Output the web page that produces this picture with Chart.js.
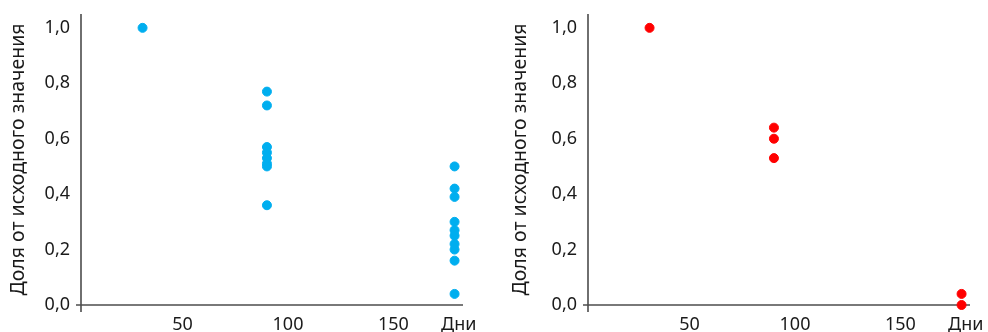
<!DOCTYPE html>
<html>
<head>
<meta charset="utf-8">
<script src="https://cdn.jsdelivr.net/npm/chart.js@4"></script>
<style>
  html, body { margin: 0; padding: 0; background: #fff; }
  .wrap { position: relative; width: 988px; height: 332px; }
  .box { position: absolute; top: 0; height: 332px; }
</style>
</head>
<body>
<div class="wrap">
  <div class="box" style="left:0;width:494px"><canvas id="left"></canvas></div>
  <div class="box" style="left:494px;width:494px"><canvas id="right"></canvas></div>
</div>
<script>
// дни наблюдения (позиции столбцов)
const dayPositions = [31, 90, 179];

// синие точки
const blueDay30 = [1.0];
const blueDay90 = [0.77, 0.72, 0.57, 0.55, 0.53, 0.51, 0.50, 0.36];
const blueDay180 = [0.50, 0.42, 0.39, 0.30, 0.27, 0.25, 0.22, 0.20, 0.16, 0.04];

// красные точки
const redDay30 = [1.0];
const redDay90 = [0.64, 0.60, 0.53];
const redDay180 = [0.04, 0.0];

const xTicks = [50, 100, 150, 181];
const xTickLabels = ['50', '100', '150', 'Дни'];
const yTicks = [0, 0.2, 0.4, 0.6, 0.8, 1.0];
const yTitle = 'Доля от исходного значения';

const FONT = '"Noto Sans", "Open Sans", sans-serif';
const AXIS = '#4d4d4d';

function toPoints(groups) {
  const pts = [];
  groups.forEach((vals, i) => vals.forEach(v => pts.push({ x: dayPositions[i], y: v })));
  return pts;
}

// оси рисуем сами: с небольшим выступом в начале координат
const axesPlugin = {
  id: 'axes',
  beforeDatasetsDraw(chart) {
    const { ctx, chartArea: a } = chart;
    ctx.save();
    ctx.strokeStyle = AXIS;
    ctx.lineWidth = 1.6;
    ctx.beginPath();
    ctx.moveTo(a.left, a.top);
    ctx.lineTo(a.left, a.bottom + 7);
    ctx.moveTo(a.left - 5, a.bottom);
    ctx.lineTo(a.right, a.bottom);
    ctx.stroke();
    ctx.restore();
  }
};

function makeChart(id, groups, color, yWidth, titlePad, rightPad) {
  new Chart(document.getElementById(id), {
    type: 'scatter',
    data: {
      datasets: [{
        data: toPoints(groups),
        backgroundColor: color,
        borderColor: color,
        pointRadius: 4.5,
        pointHoverRadius: 4.5,
        clip: false
      }]
    },
    options: {
      responsive: true,
      maintainAspectRatio: false,
      animation: false,
      layout: { padding: { top: 14, right: rightPad, left: 0, bottom: 0 } },
      plugins: { legend: { display: false }, tooltip: { enabled: false } },
      scales: {
        x: {
          type: 'linear',
          min: 1.8,
          max: 183,
          grid: { display: false, drawTicks: false },
          border: { display: false },
          afterBuildTicks: s => { s.ticks = xTicks.map(v => ({ value: v })); },
          afterFit: s => { s.height = 27; s.paddingLeft = 0; s.paddingRight = 0; },
          ticks: {
            padding: 9,
            color: '#1a1a1a',
            font: { family: FONT, size: 18 },
            callback: v => xTickLabels[xTicks.indexOf(v)]
          }
        },
        y: {
          min: 0,
          max: 1.05,
          grid: { display: false, drawTicks: false },
          border: { display: false },
          afterBuildTicks: s => { s.ticks = yTicks.map(v => ({ value: v })); },
          afterFit: s => { s.width = yWidth; s.paddingTop = 0; s.paddingBottom = 0; },
          ticks: {
            padding: 11,
            color: '#1a1a1a',
            font: { family: FONT, size: 18 },
            callback: v => v.toFixed(1).replace('.', ',')
          },
          title: {
            display: true,
            text: yTitle,
            color: '#1a1a1a',
            font: { family: FONT, size: 19.5 },
            padding: { top: titlePad, bottom: 0 }
          }
        }
      }
    },
    plugins: [axesPlugin]
  });
}

makeChart('left', [blueDay30, blueDay90, blueDay180], '#00aeef', 81, 7, 31);
makeChart('right', [redDay30, redDay90, redDay180], '#ff0000', 94, 15, 18);
</script>
</body>
</html>
